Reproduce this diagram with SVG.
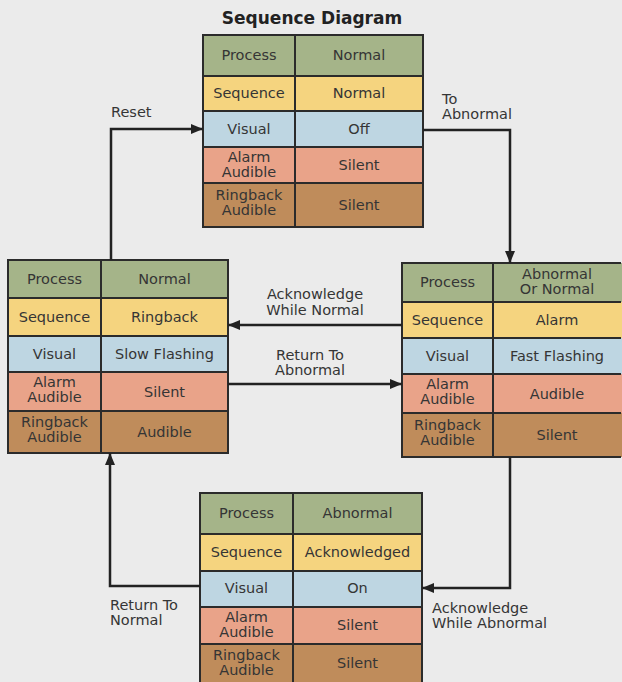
<svg xmlns="http://www.w3.org/2000/svg" width="622" height="682" viewBox="0 0 622 682">
<defs>
<marker id="ah" viewBox="0 0 12 10" refX="12" refY="5" markerWidth="12" markerHeight="10" markerUnits="userSpaceOnUse" orient="auto">
<path d="M0,0 L12,5 L0,10 Z" fill="#222"/>
</marker>
<style>
.g{fill:#a5b489}.y{fill:#f5d47f}.b{fill:#bed6e2}.s{fill:#e9a389}.r{fill:#bf8c5b}
.grid{fill:none;stroke:#2b2b2b;stroke-width:2}
text{font-family:"DejaVu Sans","Liberation Sans",sans-serif;font-size:14.5px;fill:#353535;text-anchor:middle}
.lbl{text-anchor:start}
.title{font-size:17px;font-weight:bold;fill:#222}
.con{fill:none;stroke:#222;stroke-width:2.5;marker-end:url(#ah)}
</style>
</defs>
<rect width="622" height="682" fill="#ebebeb"/>
<text class="title" x="312" y="24">Sequence Diagram</text>

<g id="top">
<rect class="g" x="203" y="35" width="220" height="41"/>
<rect class="y" x="203" y="76" width="220" height="35"/>
<rect class="b" x="203" y="111" width="220" height="36"/>
<rect class="s" x="203" y="147" width="220" height="36"/>
<rect class="r" x="203" y="183" width="220" height="44"/>
<path class="grid" d="M203,35H423V227H203Z M295,35V227 M203,76H423 M203,111H423 M203,147H423 M203,183H423"/>
<text x="249" y="60">Process</text><text x="359" y="60">Normal</text>
<text x="249" y="98">Sequence</text><text x="359" y="98">Normal</text>
<text x="249" y="134">Visual</text><text x="359" y="134">Off</text>
<text x="249" y="162">Alarm</text><text x="249" y="177">Audible</text><text x="359" y="170">Silent</text>
<text x="249" y="200">Ringback</text><text x="249" y="215">Audible</text><text x="359" y="210">Silent</text>
</g>

<g id="left">
<rect class="g" x="8" y="260" width="220" height="38"/>
<rect class="y" x="8" y="298" width="220" height="38"/>
<rect class="b" x="8" y="336" width="220" height="36"/>
<rect class="s" x="8" y="372" width="220" height="39"/>
<rect class="r" x="8" y="411" width="220" height="42"/>
<path class="grid" d="M8,260H228V453H8Z M101,260V453 M8,298H228 M8,336H228 M8,372H228 M8,411H228"/>
<text x="54.5" y="284">Process</text><text x="164.5" y="284">Normal</text>
<text x="54.5" y="322">Sequence</text><text x="164.5" y="322">Ringback</text>
<text x="54.5" y="359">Visual</text><text x="164.5" y="359">Slow Flashing</text>
<text x="54.5" y="387">Alarm</text><text x="54.5" y="402">Audible</text><text x="164.5" y="397">Silent</text>
<text x="54.5" y="427">Ringback</text><text x="54.5" y="442">Audible</text><text x="164.5" y="437">Audible</text>
</g>

<g id="right">
<rect class="g" x="402" y="263" width="220" height="39"/>
<rect class="y" x="402" y="302" width="220" height="36"/>
<rect class="b" x="402" y="338" width="220" height="36"/>
<rect class="s" x="402" y="374" width="220" height="39"/>
<rect class="r" x="402" y="413" width="220" height="44"/>
<path class="grid" d="M621,263H402V457H621 M493,263V457 M402,302H621 M402,338H621 M402,374H621 M402,413H621"/>
<text x="447.5" y="287">Process</text><text x="557" y="279">Abnormal</text><text x="557" y="294">Or Normal</text>
<text x="447.5" y="325">Sequence</text><text x="557" y="325">Alarm</text>
<text x="447.5" y="361">Visual</text><text x="557" y="361">Fast Flashing</text>
<text x="447.5" y="389">Alarm</text><text x="447.5" y="404">Audible</text><text x="557" y="399">Audible</text>
<text x="447.5" y="430">Ringback</text><text x="447.5" y="445">Audible</text><text x="557" y="440">Silent</text>
</g>

<g id="bottom">
<rect class="g" x="200" y="493" width="222" height="41"/>
<rect class="y" x="200" y="534" width="222" height="37"/>
<rect class="b" x="200" y="571" width="222" height="36"/>
<rect class="s" x="200" y="607" width="222" height="37"/>
<rect class="r" x="200" y="644" width="222" height="42"/>
<path class="grid" d="M200,686V493H422V686 M293,493V686 M200,534H422 M200,571H422 M200,607H422 M200,644H422"/>
<text x="246.5" y="518">Process</text><text x="357.5" y="518">Abnormal</text>
<text x="246.5" y="557">Sequence</text><text x="357.5" y="557">Acknowledged</text>
<text x="246.5" y="593">Visual</text><text x="357.5" y="593">On</text>
<text x="246.5" y="622">Alarm</text><text x="246.5" y="637">Audible</text><text x="357.5" y="630">Silent</text>
<text x="246.5" y="660">Ringback</text><text x="246.5" y="675">Audible</text><text x="357.5" y="668">Silent</text>
</g>

<g id="connectors">
<path class="con" d="M111,260V129H203"/>
<path class="con" d="M423,130H510V263"/>
<path class="con" d="M402,325H228"/>
<path class="con" d="M228,384H402"/>
<path class="con" d="M510,457V588H422"/>
<path class="con" d="M200,586H110V453"/>
<text class="lbl" x="111" y="117">Reset</text>
<text class="lbl" x="442" y="104">To</text>
<text class="lbl" x="442" y="119">Abnormal</text>
<text x="315" y="299">Acknowledge</text>
<text x="315" y="315">While Normal</text>
<text x="310" y="360">Return To</text>
<text x="310" y="375">Abnormal</text>
<text class="lbl" x="110" y="610">Return To</text>
<text class="lbl" x="110" y="625">Normal</text>
<text class="lbl" x="432" y="613">Acknowledge</text>
<text class="lbl" x="432" y="628">While Abnormal</text>
</g>
</svg>
